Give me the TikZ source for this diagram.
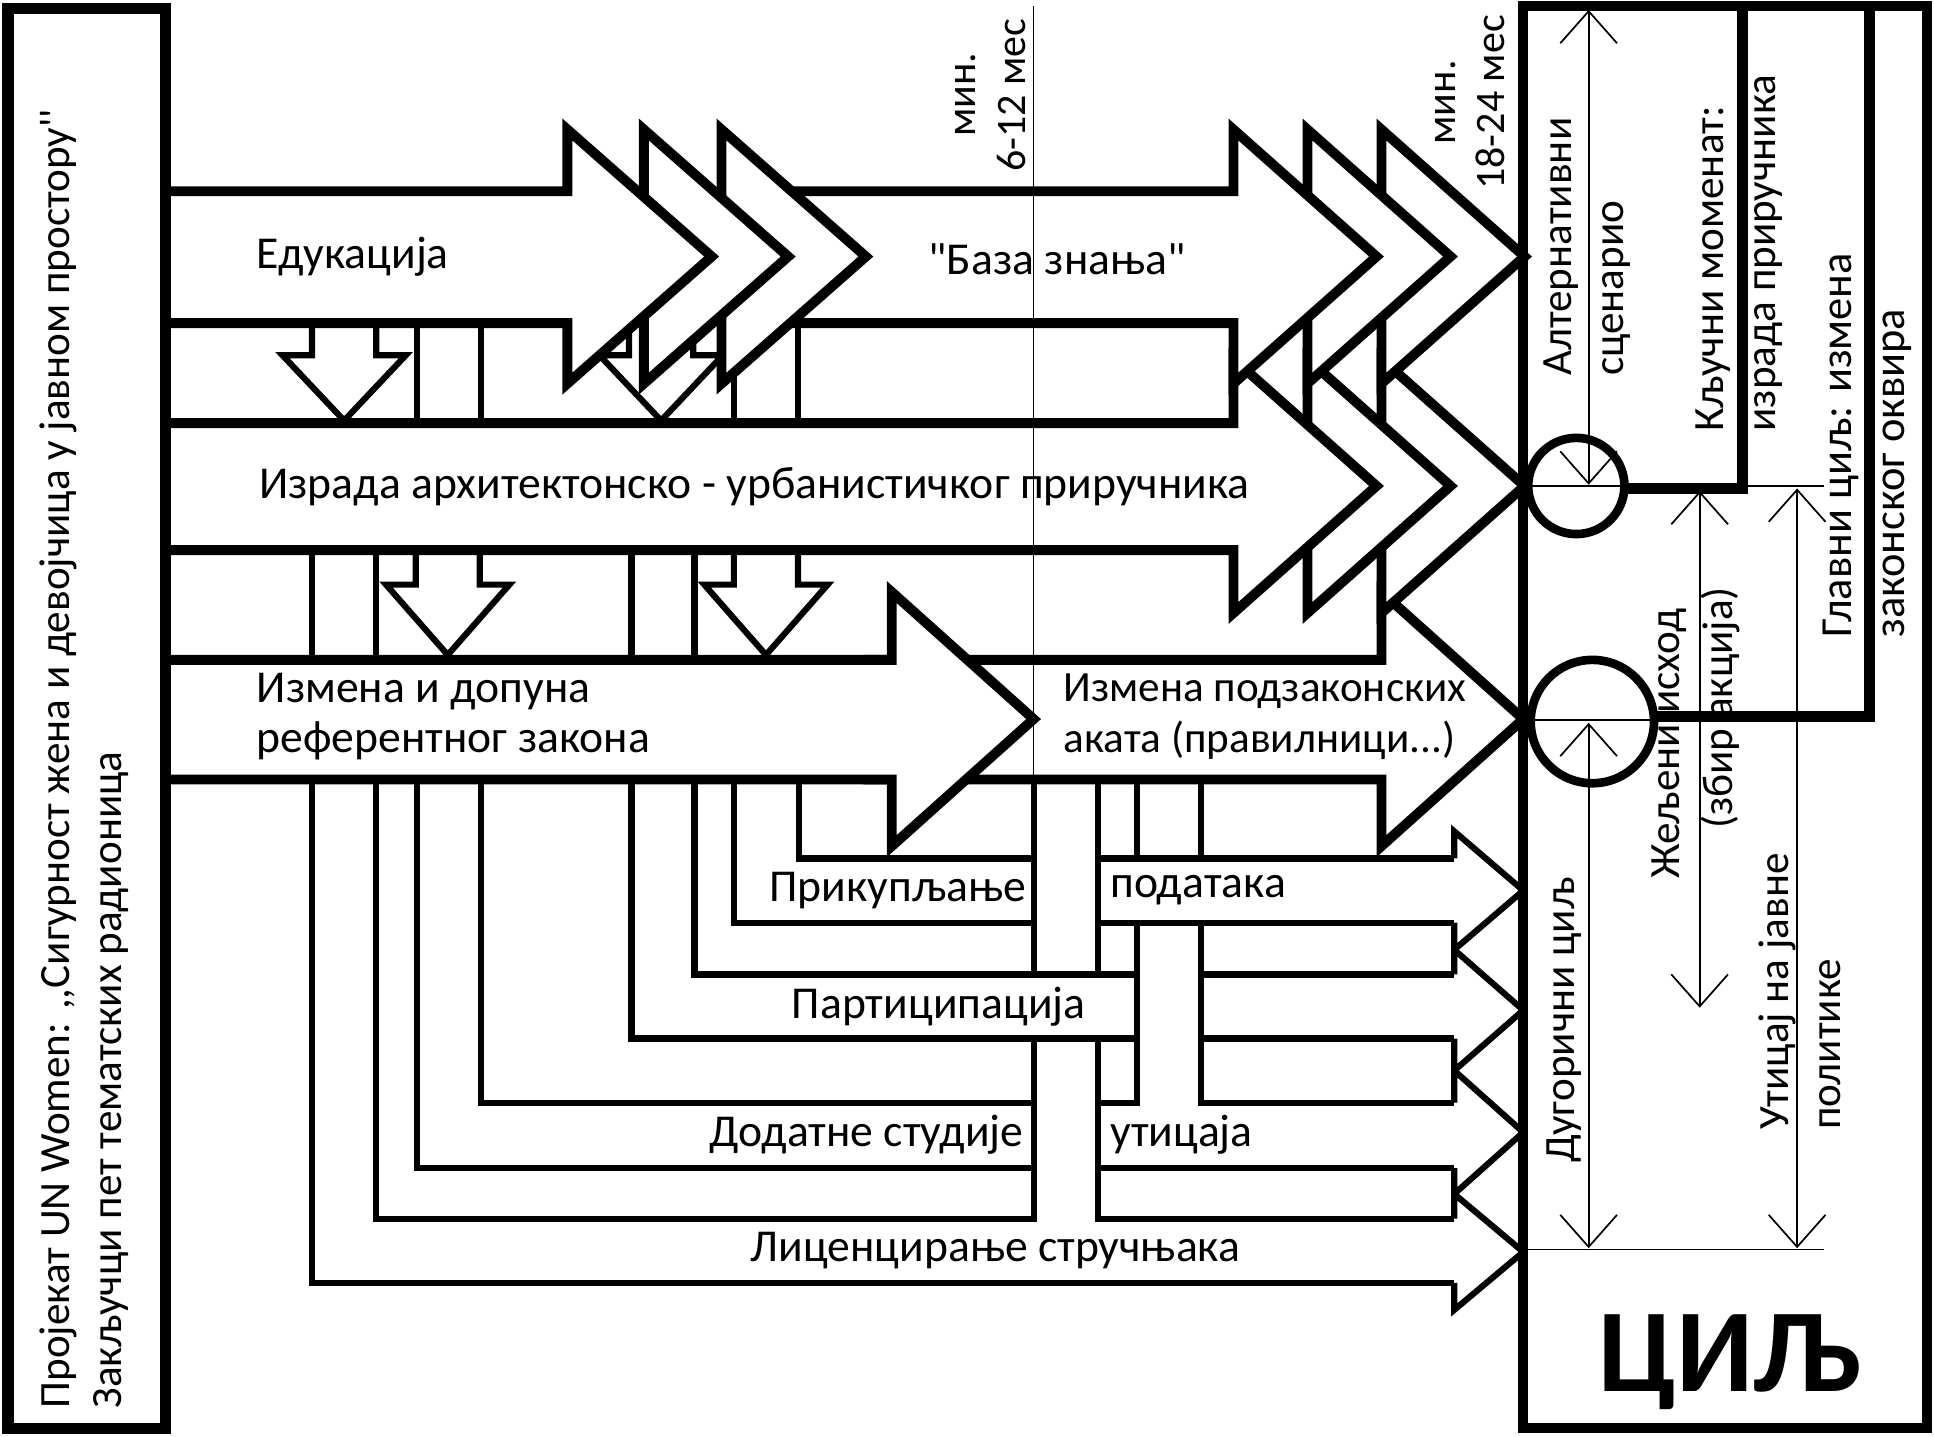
\documentclass[tikz,border=0pt]{standalone}
\usepackage{fontspec}
\newfontfamily\cf{Carlito}
\usetikzlibrary{arrows.meta}
\newcommand\DownArr[4]{% cx, top, shoulder, tip
  \path[smallshape] ({#1-26},#2) -- ({#1-26},#3) -- ({#1-50},#3) -- (#1,#4) -- ({#1+50},#3) -- ({#1+26},#3) -- ({#1+26},#2);}
\begin{document}
\begin{tikzpicture}[x=1pt,y=-1pt,
  bigshape/.style={fill=white,draw=black,line width=8pt,line join=miter},
  smallshape/.style={fill=white,draw=black,line width=5pt,line join=miter},
  pipe/.style={draw=black,line width=5pt,line join=miter},
  hair/.style={draw=black,line width=1.4pt},
  dimarrow/.style={hair,{Straight Barb[length=26pt,width=46pt]}-{Straight Barb[length=26pt,width=46pt]}},
  txt/.style={font=\cf\fontsize{37}{41}\selectfont,inner sep=0pt},
  rtxt/.style={font=\cf\fontsize{35}{42}\selectfont,inner sep=0pt,rotate=90,anchor=west,align=left},
  ctxt/.style={font=\cf\fontsize{34}{40}\selectfont,inner sep=0pt,rotate=90,align=center},
]
\useasboundingbox (0,0) rectangle (1568,1165);
\fill[white] (0,0) rectangle (1568,1165);

% ---------------- lower section: pipes and small arrows ----------------
\draw[pipe] (648,632) -- (648,696) -- (838,696);
\draw[pipe] (595,632) -- (595,748) -- (838,748);
\draw[pipe] (838,632) -- (838,790);
\draw[pipe] (890,632) -- (890,790);
\draw[pipe] (890,696) -- (1179,696);
\draw[pipe] (890,748) -- (1179,748);
\draw[pipe] (922,632) -- (922,696);
\draw[pipe] (974,632) -- (974,696);
\draw[pipe] (563,632) -- (563,790) -- (922,790);
\draw[pipe] (512,632) -- (512,842) -- (922,842);
\draw[pipe] (974,790) -- (1179,790);
\draw[pipe] (974,842) -- (1179,842);
\draw[pipe] (922,748) -- (922,894) -- (890,894);
\draw[pipe] (974,748) -- (974,894) -- (1179,894);
\draw[pipe] (390,632) -- (390,894) -- (838,894);
\draw[pipe] (338,632) -- (338,947) -- (838,947);
\draw[pipe] (890,947) -- (1179,947);
\draw[pipe] (305,632) -- (305,988) -- (838,988) -- (838,842);
\draw[pipe] (890,842) -- (890,988) -- (1179,988);
\draw[pipe] (253,632) -- (253,1040) -- (1179,1040);
\path[smallshape] (1179,696) -- (1179,674) -- (1235,722) -- (1179,770) -- (1179,748);
\path[smallshape] (1179,790) -- (1179,770) -- (1235,819) -- (1179,868) -- (1179,842);
\path[smallshape] (1179,894) -- (1179,868) -- (1235,918) -- (1179,968) -- (1179,947);
\path[smallshape] (1179,988) -- (1179,968) -- (1235,1015) -- (1179,1062) -- (1179,1040);

\node[txt,anchor=east] (t-prik) at (832,722) {Прикупљање};
\node[txt,anchor=west] (t-pod) at (900,722) {података};
\node[txt] (t-part) at (761,816) {Партиципација};
\node[txt,anchor=east] (t-dod) at (830,920) {Додатне студије};
\node[txt,anchor=west] (t-uti) at (900,920) {утицаја};
\node[txt] (t-lic) at (807,1014) {Лиценцирање стручњака};

% ---------------- row 3 ----------------
\path[bigshape] (700,535) -- (1120,535) -- (1120,480) -- (1235,583) -- (1120,686) -- (1120,632) -- (700,632);
\path[bigshape] (134,535) -- (723,535) -- (723,480) -- (838,583) -- (723,686) -- (723,632) -- (134,632);
\node[txt,align=left,anchor=west] (t-izm) at (208,581) {Измена и допуна\\референтног закона};
\node[txt,font=\cf\fontsize{35}{41}\selectfont,align=left,anchor=west] (t-pod2) at (862,581) {Измена подзаконских\\аката (правилници...)};

% ---------------- between rows 2 and 3 ----------------
\draw[pipe] (253,446) -- (253,535);
\draw[pipe] (305,446) -- (305,535);
\draw[pipe] (512,446) -- (512,535);
\draw[pipe] (563,446) -- (563,535);
\DownArr{363}{446}{474}{531}
\DownArr{621}{446}{474}{531}

% ---------------- row 2 ----------------
\path[bigshape] (1120,291) -- (1236,394) -- (1120,497) -- cycle;
\path[bigshape] (1060,291) -- (1176,394) -- (1060,497) -- cycle;
\path[bigshape] (134,343) -- (1000,343) -- (1000,291) -- (1116,394) -- (1000,497) -- (1000,446) -- (134,446);
\node[txt,anchor=west] (t-izr) at (210,395) {Израда архитектонско - урбанистичког приручника};

% ---------------- row 1 ----------------
\path[bigshape] (1120,105) -- (1236,208) -- (1120,311) -- cycle;
\path[bigshape] (1060,105) -- (1176,208) -- (1060,311) -- cycle;
\path[bigshape] (600,155) -- (1000,155) -- (1000,105) -- (1116,208) -- (1000,311) -- (1000,262) -- (600,262);
\draw[pipe] (338,262) -- (338,343);
\draw[pipe] (390,262) -- (390,343);
\draw[pipe] (595,262) -- (595,343);
\draw[pipe] (647,262) -- (647,343);
\DownArr{279}{262}{288}{341}
\DownArr{536}{262}{288}{341}
\path[bigshape] (585,105) -- (702,208) -- (585,311) -- cycle;
\path[bigshape] (522,105) -- (639,208) -- (522,311) -- cycle;
\path[bigshape] (134,155) -- (460,155) -- (460,105) -- (577,208) -- (460,311) -- (460,262) -- (134,262);
\node[txt,anchor=west] (t-edu) at (208,208) {Едукација};
\node[txt] (t-baza) at (857,210) {"База знања"};

% ---------------- time line ----------------
\draw[hair] (838,5) -- (838,632);
\node[ctxt] (t-min1) at (803,77) {мин.\\6-12 мес};
\node[ctxt] (t-min2) at (1192,83) {мин.\\18-24 мес};

% ---------------- left box ----------------
\draw[line width=9pt] (6.5,7) rectangle (134,1158);
\node[rtxt] (t-proj) at (68,1142) {Пројекат UN Women: ,,Сигурност жена и девојчица у јавном простору''\\Закључци пет тематских радионица};

% ---------------- right box ----------------
\draw[line width=8pt] (1235,5) rectangle (1562,1158);
\draw[line width=9pt,line join=miter] (1413,5) -- (1413,396) -- (1317,396);
\draw[line width=9pt,line join=miter] (1516,5) -- (1516,581) -- (1342,581);
\draw[line width=7pt] (1278,394) circle[radius=39];
\draw[line width=7pt] (1291,585) circle[radius=50];
\draw[hair] (1239,394) -- (1479,394);
\draw[hair] (1239,584) -- (1340,584);
\draw[hair] (1239,1013) -- (1479,1013);
\draw[dimarrow] (1288,8) -- (1288,393);
\draw[dimarrow] (1378,398) -- (1378,817);
\draw[dimarrow] (1457,396) -- (1457,1012);
\draw[dimarrow] (1288,586) -- (1288,1012);

\node[rtxt] (t-alt) at (1287,305) {Алтернативни\\сценарио};
\node[rtxt] (t-klj) at (1410,350) {Кључни моменат:\\израда приручника};
\node[rtxt,font=\cf\fontsize{36}{43}\selectfont] (t-glav) at (1514,517) {Главни циљ: измена\\законског оквира};
\node[rtxt,anchor=center] (t-zel) at (1353,603) {Жељени исход};
\node[rtxt,anchor=center] (t-zbir) at (1395,574) {(збир акција)};
\node[rtxt] (t-dug) at (1268,943) {Дугорични циљ};
\node[rtxt] (t-uticaj) at (1459,916) {Утицај на јавне\\политике};
\node[font=\cf\bfseries\fontsize{96}{100}\selectfont,inner sep=0pt,anchor=base] (t-cilj) at (1402,1128) {ЦИЉ};
\end{tikzpicture}
\end{document}
